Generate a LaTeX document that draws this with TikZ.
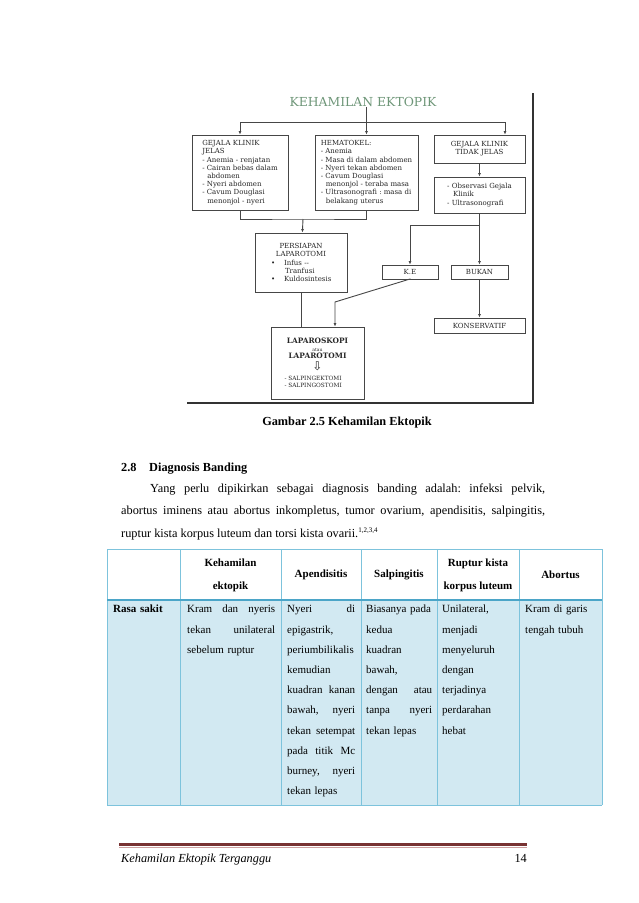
\documentclass[tikz,border=0pt]{standalone}
\usepackage{fontspec}
\setmainfont{Liberation Serif}
\newfontfamily\flowfont{DejaVu Serif}
\newfontfamily\symfont{DejaVu Sans}
\usetikzlibrary{arrows.meta,calc}
\frenchspacing

\definecolor{flowgray}{RGB}{70,70,70}
\definecolor{titlegreen}{RGB}{110,150,120}
\definecolor{tblblue}{RGB}{125,195,220}
\definecolor{tbldark}{RGB}{75,165,200}
\definecolor{rowfill}{RGB}{210,233,242}
\definecolor{footred}{RGB}{120,50,50}
\definecolor{footpink}{RGB}{205,160,160}

\newcommand{\spread}[1]{\makebox[\hsize][s]{\spaceskip=0pt\xspaceskip=0pt #1}}

\begin{document}
\begin{tikzpicture}[x=1pt, y=-1pt, >={Latex[length=3.5pt,width=3pt]},
    every node/.style={inner sep=0pt},
    fbox/.style={draw=flowgray, line width=0.9pt, text=black!85, font=\flowfont\fontsize{7}{8.2}\selectfont},
    fline/.style={draw=flowgray, line width=0.9pt},
    tline/.style={draw=tblblue, line width=0.8pt},
    body/.style={font=\fontsize{12.3}{14}\selectfont, anchor=base west},
    hcell/.style={font=\bfseries\fontsize{11}{23}\selectfont, align=center},
    cell/.style={font=\fontsize{11}{20.2}\selectfont, align=left, anchor=north west, text width=#1}]
    \useasboundingbox[fill=white] (0,0) rectangle (638,903);

    % flowchart title and first row of boxes
    \node[font=\flowfont\fontsize{12.4}{12}\selectfont, text=titlegreen] (ttl) at (363,102) {KEHAMILAN EKTOPIK};
    \node[fbox, minimum width=96pt, minimum height=75pt, align=left] (jelas) at (240,172.5)
        {GEJALA KLINIK\\JELAS\\- Anemia - renjatan\\- Cairan bebas dalam\\\hspace*{5pt}abdomen\\- Nyeri abdomen\\- Cavum Douglasi\\\hspace*{5pt}menonjol - nyeri};
    \node[fbox, minimum width=103pt, minimum height=75pt, align=left] (hema) at (366.5,172.5)
        {HEMATOKEL:\\- Anemia\\- Masa di dalam abdomen\\- Nyeri tekan abdomen\\- Cavum Douglasi\\\hspace*{5pt}menonjol - teraba masa\\- Ultrasonografi : masa di\\\hspace*{5pt}belakang uterus};
    \node[fbox, minimum width=91pt, minimum height=28pt, align=center] (tidak) at (479.5,149)
        {GEJALA KLINIK\\TIDAK JELAS};
    \node[fbox, minimum width=91pt, minimum height=36pt, align=left] (obs) at (479.5,195)
        {- Observasi Gejala\\\hspace*{6pt}Klinik\\- Ultrasonografi};

    % lower boxes
    \node[fbox, minimum width=92pt, minimum height=59pt, align=center] (persiapan) at (301,262.5)
        {PERSIAPAN\\LAPAROTOMI\\\makebox[60pt][l]{\textbullet\hspace{9pt}Infus --}\\\makebox[60pt][l]{\hspace{14pt}Tranfusi}\\\makebox[60pt][l]{\textbullet\hspace{9pt}Kuldosintesis}};
    \node[fbox, minimum width=56pt, minimum height=14pt] (ke) at (410,272) {K.E};
    \node[fbox, minimum width=57pt, minimum height=14pt] (bukan) at (479.5,272) {BUKAN};
    \node[fbox, minimum width=91pt, minimum height=15pt] (konservatif) at (479.5,325.5) {KONSERVATIF};
    \node[fbox, minimum width=93pt, minimum height=72pt, align=center] (lapsk) at (317.5,363)
        {{\bfseries\fontsize{7.4}{8}\selectfont LAPAROSKOPI}\\[-1pt]
         {\fontsize{4.5}{6}\selectfont atau}\\[-1pt]
         {\bfseries\fontsize{7.4}{8}\selectfont LAPAROTOMI}\\[2pt]
         {\symfont\fontsize{12}{12}\selectfont ⇩}\\[2pt]
         \makebox[66pt][l]{\fontsize{5.8}{6}\selectfont - SALPINGEKTOMI}\\[-1pt]
         \makebox[66pt][l]{\fontsize{5.8}{6}\selectfont - SALPINGOSTOMI}};

    % connectors
    \coordinate (bar) at (366.5,122);
    \coordinate (merge) at (303,219);
    \coordinate (split) at (479.5,225);
    \coordinate (kebend) at (335,302);
    \draw[fline,->] (ttl.south -| hema.north) -- (hema);
    \draw[fline,->] (bar) -| (jelas);
    \draw[fline,->] (bar) -| ([xshift=25.5pt]tidak.north);
    \draw[fline,->] (tidak) -- (obs);
    \draw[fline] (jelas) |- (merge) -| (hema);
    \draw[fline,->] (merge) -- (persiapan);
    \draw[fline] (obs) -- (split);
    \draw[fline,->] (split) -| (ke);
    \draw[fline,->] (split) -- (bukan);
    \draw[fline,->] (bukan) -- (konservatif);
    \draw[fline] (persiapan.south) -- (persiapan.south |- lapsk.north);
    \draw[fline,->] (ke) -- ++(0,7) -- (kebend) -- (kebend |- lapsk.north);

    % picture frame shadow
    \draw[gray!40!black, line width=1.6pt] (533,93) -- (533,403) -- (187,403);

    % caption and text
    \node[font=\bfseries\fontsize{12.3}{14}\selectfont, anchor=base] (cap) at (347,425) {Gambar 2.5 Kehamilan Ektopik};
    \node[body, font=\bfseries\fontsize{12.3}{14}\selectfont] (secnum) at (121,471) {2.8};
    \node[body, font=\bfseries\fontsize{12.3}{14}\selectfont] (sectitle) at (149,471) {Diagnosis Banding};
    \node[body] (par1) at (150,492) {\makebox[395pt][s]{Yang perlu dipikirkan sebagai diagnosis banding adalah: infeksi pelvik,}};
    \node[body] (par2) at (121,514.5) {\makebox[424pt][s]{abortus iminens atau abortus inkompletus, tumor ovarium, apendisitis, salpingitis,}};
    \node[body] (par3) at (121,537) {ruptur kista korpus luteum dan torsi kista ovarii.\textsuperscript{\fontsize{7}{8}\selectfont 1,2,3,4}};

    % table
    \fill[rowfill] (107,600) rectangle (602,805);
    \foreach \x in {107,180,281,361,437,519,602}
        \draw[tline] (\x,549) -- (\x,805);
    \draw[tline] (107,549) -- (602,549);
    \draw[tline] (107,805) -- (602,805);
    \draw[draw=tbldark, line width=2pt] (107,600) -- (602,600);

    \node[hcell] (hkeh) at (230.5,575) {Kehamilan\\ektopik};
    \node[hcell] (hapd) at (321,575) {Apendisitis};
    \node[hcell] (hsal) at (399,575) {Salpingitis};
    \node[hcell] (hrup) at (478,575) {Ruptur kista\\korpus luteum};
    \node[hcell] (habo) at (560.5,575) {Abortus};

    \node[cell=60pt, font=\bfseries\fontsize{11}{20.2}\selectfont] (rsakit) at (113,605) {Rasa sakit};
    \node[cell=88pt] (ckeh) at (187,605)
        {\spread{Kram dan nyeris}\\\spread{tekan unilateral}\\sebelum ruptur};
    \node[cell=68pt] (capd) at (287,605)
        {\spread{Nyeri di}\\epigastrik,\\periumbilikalis\\kemudian\\\spread{kuadran kanan}\\\spread{bawah, nyeri}\\\spread{tekan setempat}\\\spread{pada titik Mc}\\\spread{burney, nyeri}\\tekan lepas};
    \node[cell=66pt] (csal) at (366,605)
        {Biasanya pada\\kedua\\kuadran\\bawah,\\\spread{dengan atau}\\\spread{tanpa nyeri}\\tekan lepas};
    \node[cell=71pt] (crup) at (442,605)
        {Unilateral,\\menjadi\\menyeluruh\\dengan\\terjadinya\\perdarahan\\hebat};
    \node[cell=71pt] (cabo) at (525,605)
        {Kram di garis\\tengah tubuh};

    % footer
    \draw[footred, line width=2.6pt] (119,844.5) -- (527,844.5);
    \draw[footpink, line width=0.8pt] (119,847) -- (527,847);
    \node[body, font=\itshape\fontsize{12.3}{14}\selectfont] (foottxt) at (121,862) {Kehamilan Ektopik Terganggu};
    \node[font=\fontsize{12.3}{14}\selectfont, anchor=base east] (pagenum) at (527,862) {14};
\end{tikzpicture}
\end{document}
